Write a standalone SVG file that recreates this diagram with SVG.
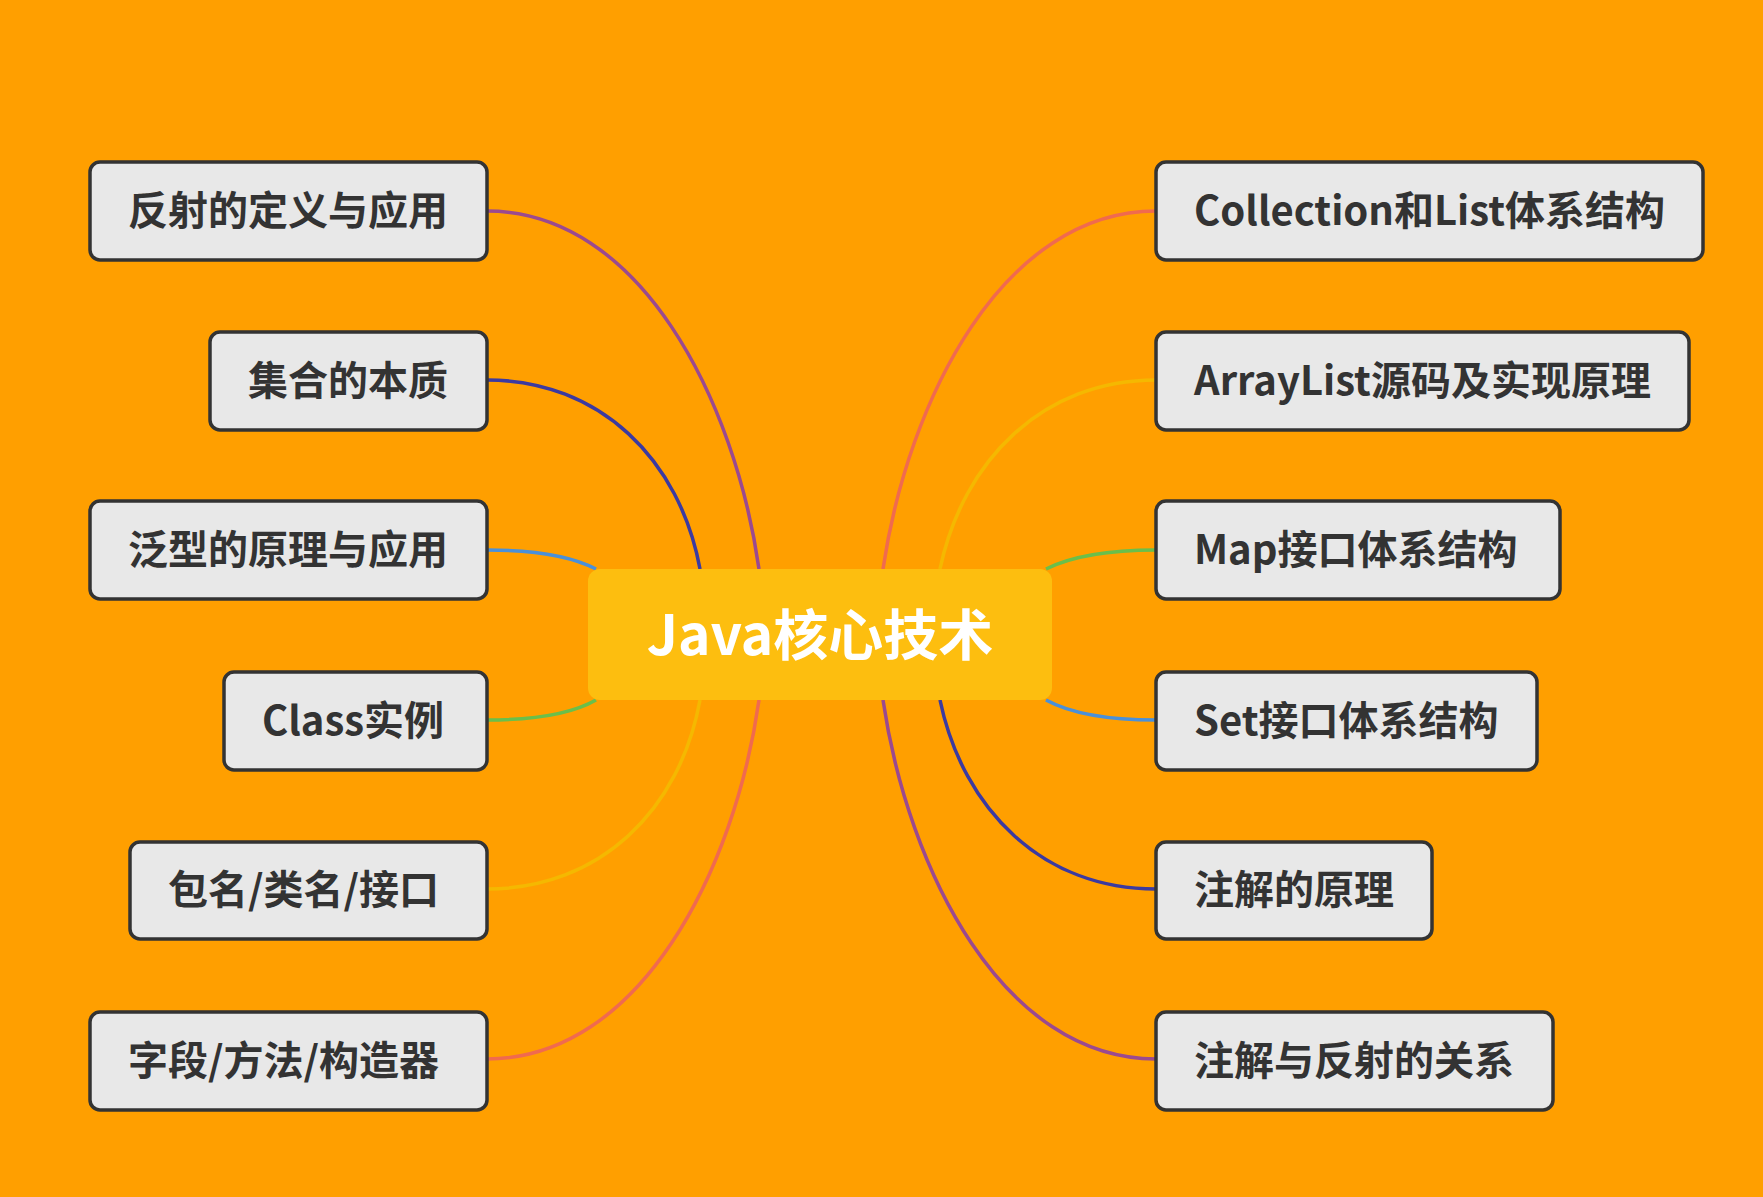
<svg xmlns="http://www.w3.org/2000/svg" width="1763" height="1197" viewBox="0 0 1763 1197">
<style>
.n rect{fill:#e8e8e8;stroke:#333;stroke-width:3.5}
.n text{font-family:"Noto Sans CJK SC","Noto Sans",sans-serif;font-size:40px;font-weight:700;fill:#333}
#connectors path{fill:none;stroke-width:3.5}
</style>
<rect width="1763" height="1197" fill="#ff9f00"/>
<g id="connectors">
<path d="M487,211 C640,211 735,400 759,569" stroke="#9b4a8f"/>
<path d="M487,380 C600,380 680,460 700,569" stroke="#3c3aa0"/>
<path d="M487,550 C540,550 575,558 596,569" stroke="#4a90d9"/>
<path d="M487,720 C540,720 575,712 596,700" stroke="#6abf4b"/>
<path d="M487,889 C600,889 680,810 700,700" stroke="#f5b800"/>
<path d="M487,1059 C640,1059 735,870 759,700" stroke="#f06a4f"/>
<path d="M1156,211 C1003,211 908,400 883,569" stroke="#f06a4f"/>
<path d="M1156,380 C1043,380 963,460 940,569" stroke="#f5b800"/>
<path d="M1156,550 C1103,550 1068,558 1046,569" stroke="#6abf4b"/>
<path d="M1156,720 C1103,720 1068,712 1046,700" stroke="#4a90d9"/>
<path d="M1156,889 C1043,889 963,810 940,700" stroke="#3c3aa0"/>
<path d="M1156,1059 C1003,1059 908,870 883,700" stroke="#9b4a8f"/>
</g>
<g id="center">
<rect x="588" y="569" width="464" height="131" rx="12" fill="#fdbe0f"/>
<text x="820" y="655" text-anchor="middle" font-family="Noto Sans CJK SC,Noto Sans,sans-serif" font-size="55" font-weight="700" fill="#fff">Java核心技术</text>
</g>
<g id="l1" class="n"><rect x="90" y="162" width="397" height="98" rx="10"/><text x="128" y="225">反射的定义与应用</text></g>
<g id="l2" class="n"><rect x="210" y="332" width="277" height="98" rx="10"/><text x="248" y="395">集合的本质</text></g>
<g id="l3" class="n"><rect x="90" y="501" width="397" height="98" rx="10"/><text x="128" y="564">泛型的原理与应用</text></g>
<g id="l4" class="n"><rect x="224" y="672" width="263" height="98" rx="10"/><text x="262" y="735">Class实例</text></g>
<g id="l5" class="n"><rect x="130" y="842" width="357" height="97" rx="10"/><text x="168" y="904">包名/类名/接口</text></g>
<g id="l6" class="n"><rect x="90" y="1012" width="397" height="98" rx="10"/><text x="128" y="1075">字段/方法/构造器</text></g>
<g id="r1" class="n"><rect x="1156" y="162" width="547" height="98" rx="10"/><text x="1194" y="225">Collection和List体系结构</text></g>
<g id="r2" class="n"><rect x="1156" y="332" width="533" height="98" rx="10"/><text x="1194" y="395">ArrayList源码及实现原理</text></g>
<g id="r3" class="n"><rect x="1156" y="501" width="404" height="98" rx="10"/><text x="1194" y="564">Map接口体系结构</text></g>
<g id="r4" class="n"><rect x="1156" y="672" width="381" height="98" rx="10"/><text x="1194" y="735">Set接口体系结构</text></g>
<g id="r5" class="n"><rect x="1156" y="842" width="276" height="97" rx="10"/><text x="1194" y="904">注解的原理</text></g>
<g id="r6" class="n"><rect x="1156" y="1012" width="397" height="98" rx="10"/><text x="1194" y="1075">注解与反射的关系</text></g>
</svg>
